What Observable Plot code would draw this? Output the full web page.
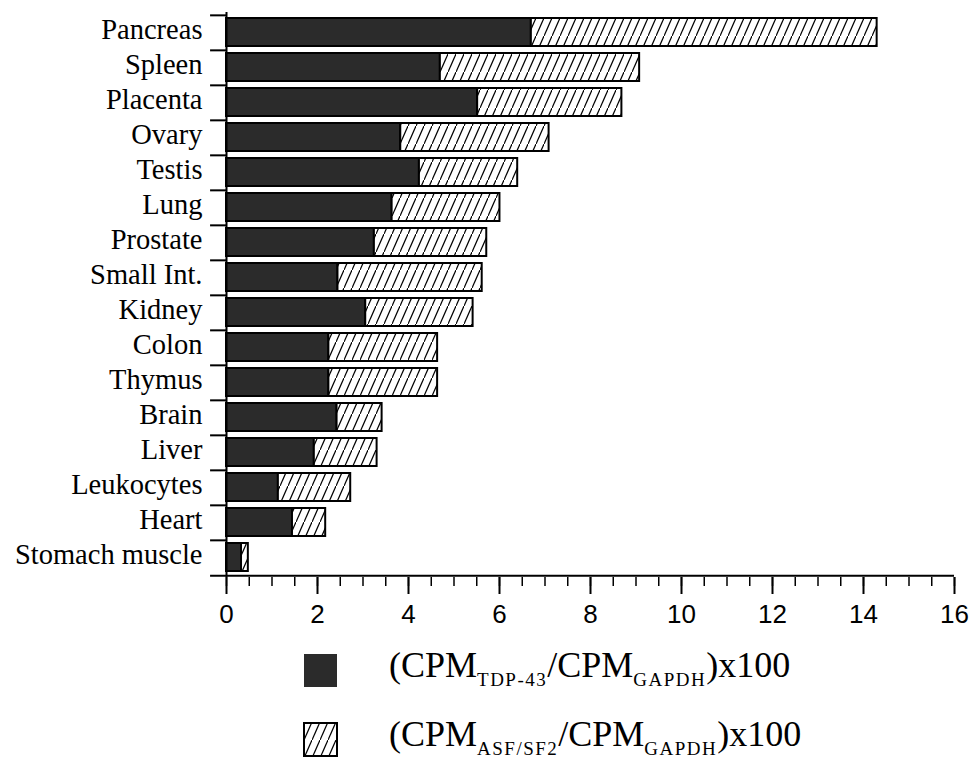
<!DOCTYPE html>
<html>
<head>
<meta charset="utf-8">
<script src="https://cdn.jsdelivr.net/npm/d3@7"></script>
<script src="https://cdn.jsdelivr.net/npm/@observablehq/plot@0.6"></script>
<style>
  body { margin: 0; background: #fff; }
  #chart svg { display: block; }
</style>
</head>
<body>
<div id="chart"></div>
<script>
const tissues = ["Pancreas","Spleen","Placenta","Ovary","Testis","Lung","Prostate","Small Int.","Kidney","Colon","Thymus","Brain","Liver","Leukocytes","Heart","Stomach muscle"];
const tdp43  = [6.70,4.70,5.52,3.83,4.24,3.64,3.25,2.45,3.06,2.25,2.25,2.43,1.93,1.14,1.45,0.33];
const asfsf2 = [7.60,4.38,3.17,3.26,2.16,2.37,2.47,3.17,2.36,2.39,2.39,0.99,1.38,1.59,0.73,0.15];
const xMajorTicks = [0,2,4,6,8,10,12,14,16];
const xMinorTicks = [0,0.5,1,1.5,2,2.5,3,3.5,4,4.5,5,5.5,6,6.5,7,7.5,8,8.5,9,9.5,10,10.5,11,11.5,12,12.5,13,13.5,14,14.5,15,15.5,16];
const legendLabels = [
  [["(CPM",0],["TDP-43",1],["/CPM",0],["GAPDH",1],[")x100",0]],
  [["(CPM",0],["ASF/SF2",1],["/CPM",0],["GAPDH",1],[")x100",0]]
];

const rows = tissues.map((t, i) => ({tissue: t, tdp: tdp43[i], asf: asfsf2[i], total: tdp43[i] + asfsf2[i]}));

const W = 973, H = 632, mT = 12, mB = 55, mL = 226, mR = 19;
const step = (H - mT - mB) / tissues.length;
const darkFill = "#2b2b2b";

const chart = Plot.plot({
  width: W, height: H,
  marginLeft: mL, marginRight: mR, marginTop: mT, marginBottom: mB,
  x: {domain: [0, 16]},
  y: {domain: tissues, padding: 0},
  style: {fontFamily: "'Liberation Serif', 'Times New Roman', serif", color: "#000", background: "#fff", overflow: "visible"},
  marks: [
    Plot.barX(rows, {y: "tissue", x1: 0, x2: "tdp", fill: darkFill, stroke: "#000", strokeWidth: 2, insetTop: 3, insetBottom: 4}),
    Plot.barX(rows, {y: "tissue", x1: "tdp", x2: "total", fill: "url(#hatch)", stroke: "#000", strokeWidth: 2, insetTop: 3, insetBottom: 4}),
    Plot.ruleX([0], {strokeWidth: 2}),
    Plot.ruleY(tissues, {y: d => d, x1: -0.35, x2: 0, dy: -step / 2, strokeWidth: 2}),
    Plot.ruleY([tissues[tissues.length - 1]], {y: d => d, x1: -0.35, x2: 16, dy: step / 2, strokeWidth: 2}),
    Plot.axisY({tickSize: 0, tickPadding: 24, fontSize: 28.5, dy: -3, label: null}),
    Plot.axisX(xMinorTicks, {tickSize: 9, strokeWidth: 1.5, tickFormat: () => "", label: null}),
    Plot.axisX(xMajorTicks, {tickSize: 17, strokeWidth: 2, tickPadding: 10, fontSize: 26, fontFamily: "'Liberation Sans', Arial, sans-serif", label: null})
  ]
});

const defs = d3.select(chart).insert("defs", ":first-child");
const pat = defs.append("pattern").attr("id", "hatch").attr("patternUnits", "userSpaceOnUse")
  .attr("width", 8).attr("height", 18);
pat.append("rect").attr("width", 8).attr("height", 18).attr("fill", "#fff");
pat.append("line").attr("x1", -0.5).attr("y1", 19.1).attr("x2", 8.5).attr("y2", -1.1)
  .attr("stroke", "#000").attr("stroke-width", 1.3);

document.getElementById("chart").appendChild(chart);

// Legend below the chart
const leg = d3.select("#chart").append("svg").attr("width", W).attr("height", 766 - H)
  .style("display", "block")
  .style("font-family", "'Liberation Serif', 'Times New Roman', serif");
const swatchFills = [darkFill, "url(#hatch)"];
legendLabels.forEach((parts, i) => {
  const y0 = 22 + i * 69;
  leg.append("rect").attr("x", 304).attr("y", y0).attr("width", 33).attr("height", 33)
    .attr("fill", swatchFills[i]).attr("stroke", "#000").attr("stroke-width", i === 0 ? 0 : 2);
  const t = leg.append("text").attr("x", 389).attr("y", y0 + 23).attr("font-size", 36).attr("fill", "#000");
  let sub = false;
  parts.forEach(([s, isSub]) => {
    const ts = t.append("tspan").text(s);
    if (isSub) {
      ts.attr("font-size", 19).attr("letter-spacing", 1.5);
      if (!sub) { ts.attr("dy", 9); sub = true; }
    } else if (sub) { ts.attr("dy", -9); sub = false; }
  });
});
</script>
</body>
</html>
